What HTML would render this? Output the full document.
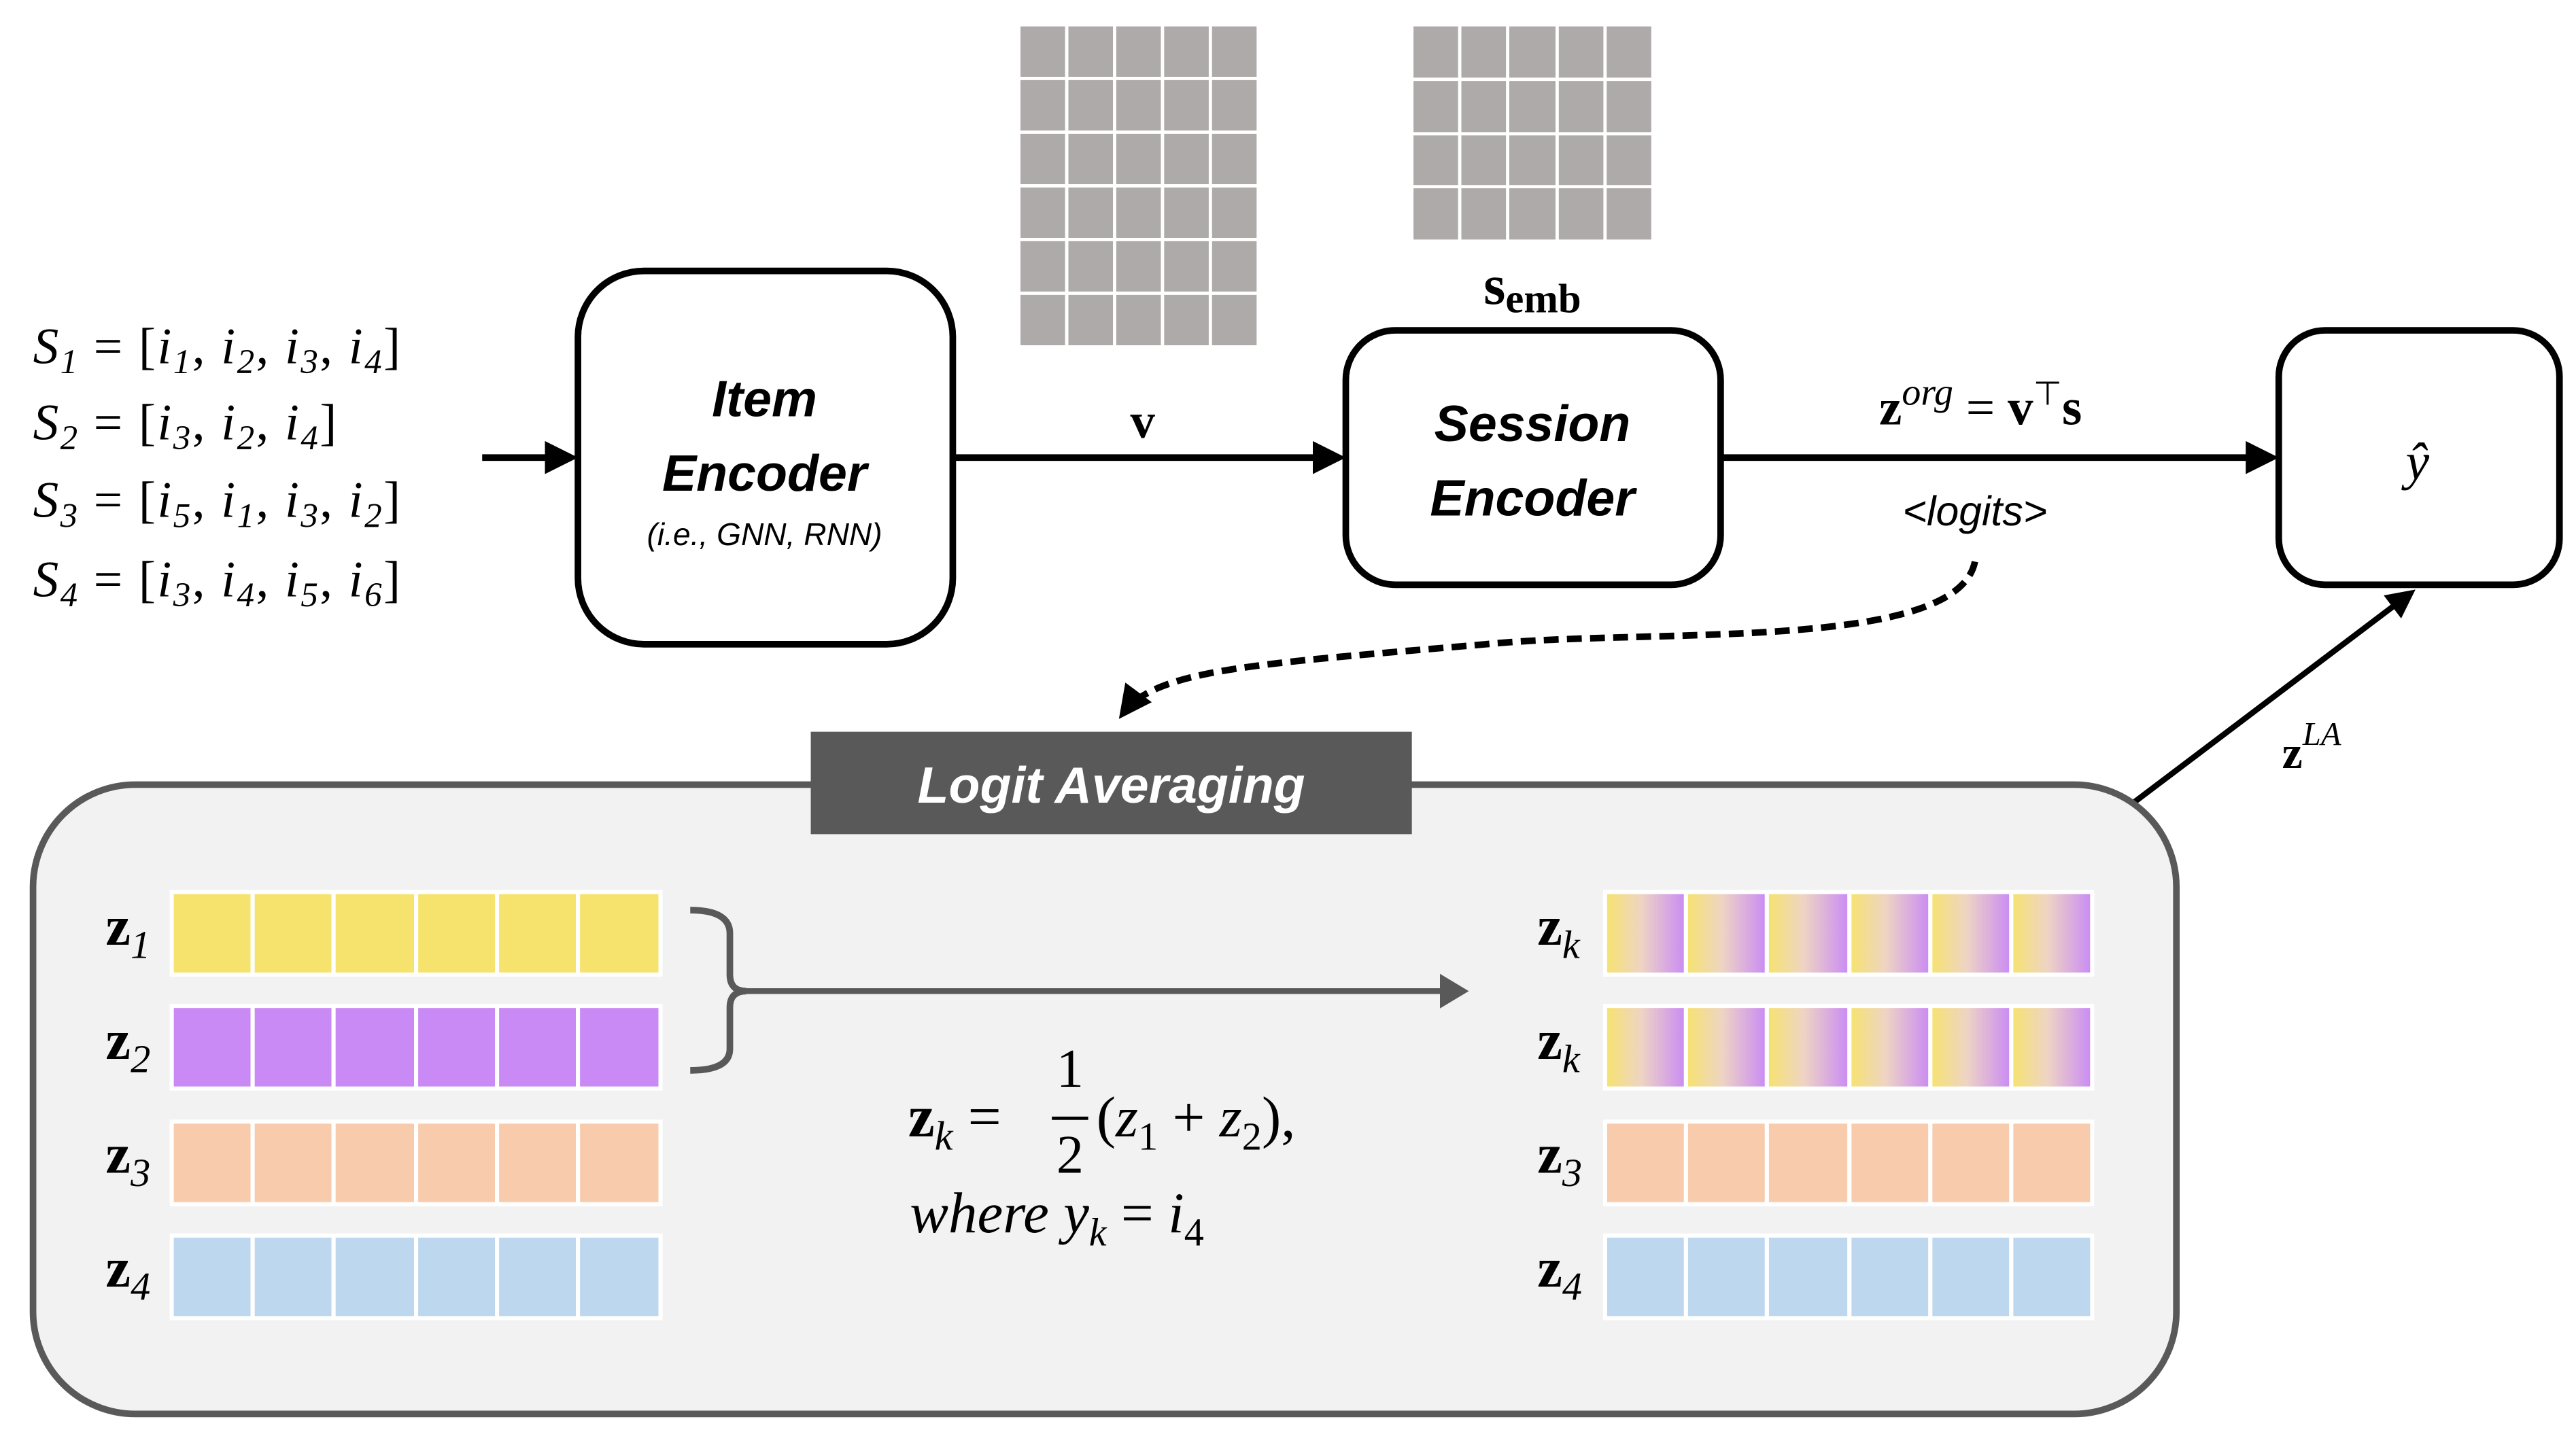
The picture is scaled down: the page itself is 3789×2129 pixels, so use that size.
<!DOCTYPE html>
<html><head><meta charset="utf-8"><style>
html,body{margin:0;padding:0;background:#fff;}
svg{display:block;}
.m{font-family:"Liberation Serif",serif;font-style:italic;}
.r{font-family:"Liberation Serif",serif;}
.b{font-family:"Liberation Sans",sans-serif;font-weight:bold;font-style:italic;}
</style></head><body>
<svg width="3789" height="2129" viewBox="0 0 1560 876" preserveAspectRatio="none" xmlns="http://www.w3.org/2000/svg">
<defs>
<linearGradient id="g" x1="0" x2="1" y1="0" y2="0"><stop offset="0" stop-color="#f6e36e"/><stop offset="0.45" stop-color="#eed4c4"/><stop offset="1" stop-color="#c98af5"/></linearGradient>
<marker id="ah" markerWidth="5" markerHeight="5" refX="4" refY="2.5" orient="auto" markerUnits="strokeWidth"><path d="M0,0 L5,2.5 L0,5 z" fill="#000"/></marker>
<marker id="ag" markerWidth="5" markerHeight="6" refX="4" refY="3" orient="auto" markerUnits="strokeWidth"><path d="M0,0 L5,3 L0,6 z" fill="#595959"/></marker>
</defs>
<g fill="#aeaaaa" stroke="#fff" stroke-width="2">
<rect x="617" y="15" width="145" height="195"/>
<rect x="855" y="15" width="146" height="131"/>
</g>
<g stroke="#fff" stroke-width="2">
<line x1="646" y1="15" x2="646" y2="210"/><line x1="675" y1="15" x2="675" y2="210"/><line x1="704" y1="15" x2="704" y2="210"/><line x1="733" y1="15" x2="733" y2="210"/>
<line x1="617" y1="47.5" x2="762" y2="47.5"/><line x1="617" y1="80" x2="762" y2="80"/><line x1="617" y1="112.5" x2="762" y2="112.5"/><line x1="617" y1="145" x2="762" y2="145"/><line x1="617" y1="177.5" x2="762" y2="177.5"/>
<line x1="884" y1="15" x2="884" y2="146"/><line x1="913" y1="15" x2="913" y2="146"/><line x1="943" y1="15" x2="943" y2="146"/><line x1="972" y1="15" x2="972" y2="146"/>
<line x1="855" y1="48" x2="1001" y2="48"/><line x1="855" y1="81" x2="1001" y2="81"/><line x1="855" y1="113" x2="1001" y2="113"/>
</g>
<text x="928" y="184" text-anchor="middle" class="r" font-weight="bold" font-size="34">s<tspan font-size="25" dy="5">emb</tspan></text>
<g class="m" font-size="31" letter-spacing="1">
<text x="20" y="220">S<tspan font-size="21" dy="6">1</tspan><tspan dy="-6" font-style="normal"> = [</tspan>i<tspan font-size="21" dy="6">1</tspan><tspan dy="-6" font-style="normal">, </tspan>i<tspan font-size="21" dy="6">2</tspan><tspan dy="-6" font-style="normal">,  </tspan>i<tspan font-size="21" dy="6">3</tspan><tspan dy="-6" font-style="normal">,  </tspan>i<tspan font-size="21" dy="6">4</tspan><tspan dy="-6" font-style="normal">]</tspan></text>
<text x="20" y="266">S<tspan font-size="21" dy="6">2</tspan><tspan dy="-6" font-style="normal"> = [</tspan>i<tspan font-size="21" dy="6">3</tspan><tspan dy="-6" font-style="normal">, </tspan>i<tspan font-size="21" dy="6">2</tspan><tspan dy="-6" font-style="normal">,  </tspan>i<tspan font-size="21" dy="6">4</tspan><tspan dy="-6" font-style="normal">]</tspan></text>
<text x="20" y="313">S<tspan font-size="21" dy="6">3</tspan><tspan dy="-6" font-style="normal"> = [</tspan>i<tspan font-size="21" dy="6">5</tspan><tspan dy="-6" font-style="normal">, </tspan>i<tspan font-size="21" dy="6">1</tspan><tspan dy="-6" font-style="normal">,  </tspan>i<tspan font-size="21" dy="6">3</tspan><tspan dy="-6" font-style="normal">,  </tspan>i<tspan font-size="21" dy="6">2</tspan><tspan dy="-6" font-style="normal">]</tspan></text>
<text x="20" y="361">S<tspan font-size="21" dy="6">4</tspan><tspan dy="-6" font-style="normal"> = [</tspan>i<tspan font-size="21" dy="6">3</tspan><tspan dy="-6" font-style="normal">, </tspan>i<tspan font-size="21" dy="6">4</tspan><tspan dy="-6" font-style="normal">,  </tspan>i<tspan font-size="21" dy="6">5</tspan><tspan dy="-6" font-style="normal">,  </tspan>i<tspan font-size="21" dy="6">6</tspan><tspan dy="-6" font-style="normal">]</tspan></text>
</g>
<g stroke="#000" stroke-width="4" fill="none" marker-end="url(#ah)">
<line x1="292" y1="277" x2="346" y2="277"/>
<line x1="577" y1="277" x2="811" y2="277"/>
<line x1="1042" y1="277" x2="1376" y2="277"/>
</g>
<line x1="1292" y1="486" x2="1460" y2="359" stroke="#000" stroke-width="3.5" marker-end="url(#ah)"/>
<g fill="#fff" stroke="#000" stroke-width="4">
<rect x="350" y="164" width="227" height="226" rx="40"/>
<rect x="815" y="200" width="227" height="154" rx="30"/>
<rect x="1380" y="200" width="170" height="154" rx="28"/>
</g>
<g class="b" font-size="31" text-anchor="middle">
<text x="463" y="252">Item</text><text x="463" y="297">Encoder</text>
<text x="928" y="267">Session</text><text x="928" y="312">Encoder</text>
</g>
<text x="463" y="330" text-anchor="middle" font-family="Liberation Sans,sans-serif" font-style="italic" font-size="19">(i.e., GNN, RNN)</text>
<text x="692" y="265" text-anchor="middle" class="r" font-weight="bold" font-size="30">v</text>
<text x="1138" y="257" class="r" font-weight="bold" font-size="31">z<tspan class="m" font-weight="normal" font-size="23" dy="-12">org</tspan><tspan font-weight="normal" dy="12"> = </tspan>v<tspan font-weight="normal" font-size="20" dy="-12">⊤</tspan><tspan dy="12">s</tspan></text>
<text x="1196" y="318" text-anchor="middle" font-family="Liberation Sans,sans-serif" font-style="italic" font-size="25">&lt;logits&gt;</text>
<text x="1464" y="290" text-anchor="middle" class="m" font-size="32">ŷ</text>
<text x="1382" y="465" class="r" font-weight="bold" font-size="28">z<tspan class="m" font-weight="normal" font-size="20" dy="-14">LA</tspan></text>
<path d="M1196,340 C1185,395 1000,380 900,390 C760,402 700,405 680,432" fill="none" stroke="#000" stroke-width="4" stroke-dasharray="9,5" marker-end="url(#ah)"/>
<rect x="20" y="475" width="1298" height="381" rx="62" fill="#f2f2f2" stroke="#595959" stroke-width="4"/>
<rect x="491" y="443" width="364" height="62" fill="#595959"/>
<text x="673" y="486" text-anchor="middle" class="b" font-size="31" fill="#fff">Logit Averaging</text>
<g stroke="#fff" stroke-width="2.5">
<g fill="#f6e36e"><rect x="104" y="540" width="49" height="50"/><rect x="153" y="540" width="49" height="50"/><rect x="202" y="540" width="50" height="50"/><rect x="252" y="540" width="49" height="50"/><rect x="301" y="540" width="49" height="50"/><rect x="350" y="540" width="50" height="50"/></g>
<g fill="#c98af5"><rect x="104" y="609" width="49" height="50"/><rect x="153" y="609" width="49" height="50"/><rect x="202" y="609" width="50" height="50"/><rect x="252" y="609" width="49" height="50"/><rect x="301" y="609" width="49" height="50"/><rect x="350" y="609" width="50" height="50"/></g>
<g fill="#f8cbad"><rect x="104" y="679" width="49" height="50"/><rect x="153" y="679" width="49" height="50"/><rect x="202" y="679" width="50" height="50"/><rect x="252" y="679" width="49" height="50"/><rect x="301" y="679" width="49" height="50"/><rect x="350" y="679" width="50" height="50"/></g>
<g fill="#bdd7ee"><rect x="104" y="748" width="49" height="50"/><rect x="153" y="748" width="49" height="50"/><rect x="202" y="748" width="50" height="50"/><rect x="252" y="748" width="49" height="50"/><rect x="301" y="748" width="49" height="50"/><rect x="350" y="748" width="50" height="50"/></g>
<g fill="url(#g)"><rect x="972" y="540" width="49" height="50"/><rect x="1021" y="540" width="49" height="50"/><rect x="1070" y="540" width="50" height="50"/><rect x="1120" y="540" width="49" height="50"/><rect x="1169" y="540" width="49" height="50"/><rect x="1218" y="540" width="49" height="50"/></g>
<g fill="url(#g)"><rect x="972" y="609" width="49" height="50"/><rect x="1021" y="609" width="49" height="50"/><rect x="1070" y="609" width="50" height="50"/><rect x="1120" y="609" width="49" height="50"/><rect x="1169" y="609" width="49" height="50"/><rect x="1218" y="609" width="49" height="50"/></g>
<g fill="#f8cbad"><rect x="972" y="679" width="49" height="50"/><rect x="1021" y="679" width="49" height="50"/><rect x="1070" y="679" width="50" height="50"/><rect x="1120" y="679" width="49" height="50"/><rect x="1169" y="679" width="49" height="50"/><rect x="1218" y="679" width="49" height="50"/></g>
<g fill="#bdd7ee"><rect x="972" y="748" width="49" height="50"/><rect x="1021" y="748" width="49" height="50"/><rect x="1070" y="748" width="50" height="50"/><rect x="1120" y="748" width="49" height="50"/><rect x="1169" y="748" width="49" height="50"/><rect x="1218" y="748" width="49" height="50"/></g>
</g>
<g class="r" font-weight="bold" font-size="34">
<text x="64" y="572">z<tspan class="m" font-weight="normal" font-size="24" dy="8">1</tspan></text>
<text x="64" y="641">z<tspan class="m" font-weight="normal" font-size="24" dy="8">2</tspan></text>
<text x="64" y="710">z<tspan class="m" font-weight="normal" font-size="24" dy="8">3</tspan></text>
<text x="64" y="779">z<tspan class="m" font-weight="normal" font-size="24" dy="8">4</tspan></text>
<text x="931" y="572">z<tspan class="m" font-weight="normal" font-size="24" dy="8">k</tspan></text>
<text x="931" y="641">z<tspan class="m" font-weight="normal" font-size="24" dy="8">k</tspan></text>
<text x="931" y="710">z<tspan class="m" font-weight="normal" font-size="24" dy="8">3</tspan></text>
<text x="931" y="779">z<tspan class="m" font-weight="normal" font-size="24" dy="8">4</tspan></text>
</g>
<path d="M418,551 Q442,551 442,565 L442,590 Q442,600 452,600 Q442,600 442,610 L442,635 Q442,648 418,648" fill="none" stroke="#595959" stroke-width="4"/>
<line x1="450" y1="600" x2="886" y2="600" stroke="#595959" stroke-width="3.5" marker-end="url(#ag)"/>
<text x="550" y="688" class="r" font-weight="bold" font-size="36">z<tspan class="m" font-weight="normal" font-size="25" dy="8">k</tspan><tspan font-weight="normal" dy="-8"> = </tspan></text>
<text x="648" y="658" text-anchor="middle" class="r" font-size="33">1</text>
<line x1="637" y1="677" x2="659" y2="677" stroke="#000" stroke-width="2"/>
<text x="648" y="710" text-anchor="middle" class="r" font-size="33">2</text>
<text x="664" y="688" class="r" font-size="35">(<tspan class="m">z</tspan><tspan font-size="24" dy="8">1</tspan><tspan dy="-8"> + </tspan><tspan class="m">z</tspan><tspan font-size="24" dy="8">2</tspan><tspan dy="-8">),</tspan></text>
<text x="551" y="746" class="m" font-size="35">where  y<tspan font-size="24" dy="8">k</tspan><tspan font-style="normal" dy="-8"> = </tspan>i<tspan font-style="normal" font-size="24" dy="8">4</tspan></text>
</svg>
</body></html>
